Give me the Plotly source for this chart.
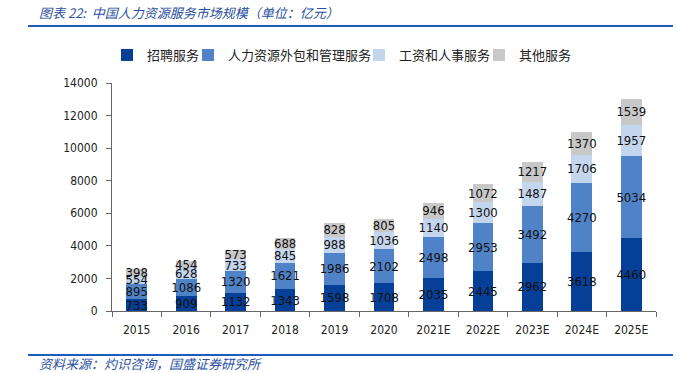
import plotly.graph_objects as go

years = ["2015", "2016", "2017", "2018", "2019", "2020", "2021E", "2022E", "2023E", "2024E", "2025E"]
recruit = [733, 909, 1132, 1343, 1598, 1708, 2035, 2445, 2962, 3618, 4460]
outsourcing = [895, 1086, 1320, 1621, 1986, 2102, 2498, 2953, 3492, 4270, 5034]
payroll = [554, 628, 733, 845, 988, 1036, 1140, 1300, 1487, 1706, 1957]
other = [398, 454, 573, 688, 828, 805, 946, 1072, 1217, 1370, 1539]

series_names = ["招聘服务", "人力资源外包和管理服务", "工资和人事服务", "其他服务"]
series_vals = [recruit, outsourcing, payroll, other]
colors = ["#063F98", "#4F82C6", "#C4D5EE", "#C8C8C8"]
legend_text_x = [147, 228, 399, 519]  # legend text left positions (px)

NUMFONT = "DejaVu Sans Condensed, DejaVu Sans"
L, R, T, B = 112, 21, 83, 62
W, H = 677, 373

fig = go.Figure()
legend_ids = ["legend", "legend2", "legend3", "legend4"]
for name, vals, c, lid in zip(series_names, series_vals, colors, legend_ids):
    fig.add_trace(go.Bar(
        x=years, y=vals, name=name, legend=lid,
        marker=dict(color=c, line=dict(width=0)),
        text=[str(v) for v in vals],
        textposition="inside",
        insidetextanchor="middle",
        textangle=0,
        constraintext="none",
        textfont=dict(family=NUMFONT, size=13, color="#111111"),
        cliponaxis=False,
    ))

legend_common = dict(orientation="h", xanchor="left", xref="container",
                     y=1 - 55 / H, yanchor="middle", yref="container",
                     font=dict(family="Noto Sans CJK SC", size=13, color="#222222"),
                     itemwidth=30, bgcolor="rgba(0,0,0,0)", borderwidth=0)
legend_layout = {}
for lid, tx in zip(legend_ids, legend_text_x):
    legend_layout[lid] = dict(legend_common, x=(tx - 40) / W)

fig.update_layout(
    barmode="stack",
    bargap=0.58,
    width=W, height=H,
    margin=dict(l=L, r=R, t=T, b=B, autoexpand=False),
    plot_bgcolor="white", paper_bgcolor="white",
    font=dict(family=NUMFONT, size=12, color="#222222"),
    showlegend=True,
    xaxis=dict(showline=True, linecolor="#666666", linewidth=1, ticks="outside",
               ticklen=5, tickcolor="#666666", tickson="boundaries",
               tickfont=dict(family=NUMFONT, size=12, color="#222222"), fixedrange=True,
               ticklabelstandoff=8),
    yaxis=dict(range=[0, 14000], dtick=2000, tickformat="d", showline=True, linecolor="#666666",
               linewidth=1, ticks="outside", ticklen=5, tickcolor="#666666", showgrid=False,
               zeroline=False, tickfont=dict(family=NUMFONT, size=12, color="#222222"),
               ticklabelstandoff=6),
    **legend_layout,
)

plot_h = H - T - B
plot_w = W - L - R
def px_x(px):
    return (px - L) / plot_w
def px_y(py):
    return (H - B - py) / plot_h

fig.add_shape(type="line", xref="paper", yref="paper", x0=px_x(28), x1=px_x(673),
              y0=px_y(26), y1=px_y(26), line=dict(color="#1F5BB8", width=2))
fig.add_shape(type="line", xref="paper", yref="paper", x0=px_x(28), x1=px_x(673),
              y0=px_y(355), y1=px_y(355), line=dict(color="#1F5BB8", width=2))
fig.add_annotation(xref="paper", yref="paper", x=px_x(37), y=px_y(13), xanchor="left", yanchor="middle",
                   text="<i>图表 22:  中国人力资源服务市场规模（单位：亿元）</i>", showarrow=False,
                   font=dict(family="Noto Sans CJK SC", size=13, color="#2A4F9E"))
fig.add_annotation(xref="paper", yref="paper", x=px_x(37), y=px_y(363), xanchor="left", yanchor="middle",
                   text="<i>资料来源：灼识咨询，国盛证券研究所</i>", showarrow=False,
                   font=dict(family="Noto Sans CJK SC", size=13, color="#2A4F9E"))

fig.write_html("out.html", config={"displayModeBar": False},
               post_script="document.body.style.margin='0';document.body.style.overflow='hidden';")
